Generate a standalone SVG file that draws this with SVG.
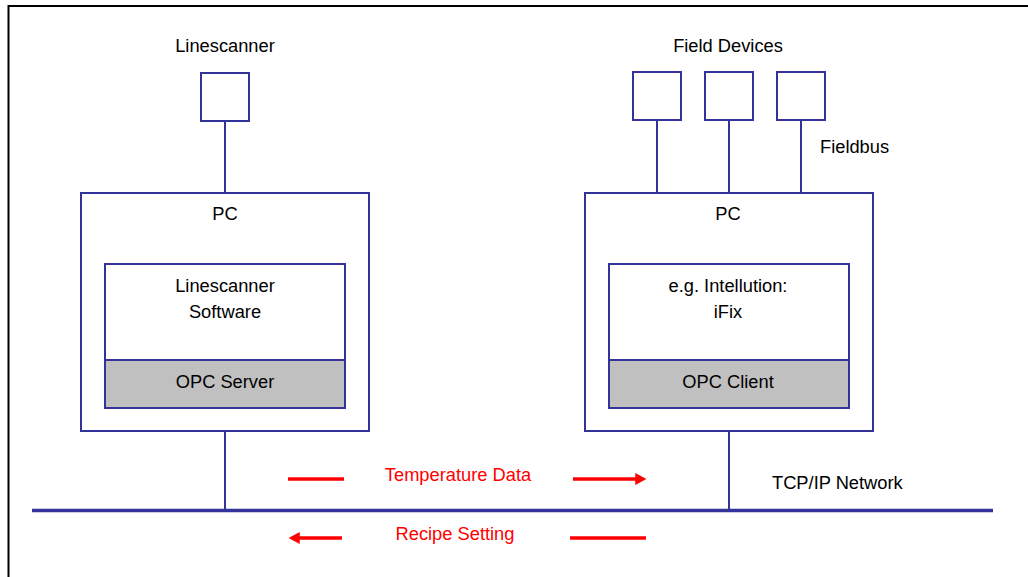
<svg xmlns="http://www.w3.org/2000/svg" width="1028" height="577" viewBox="0 0 1028 577">
<defs>
<style>
.box{fill:#fff;stroke:#333399;stroke-width:2}
.gray{fill:#c0c0c0;stroke:#333399;stroke-width:2}
.ln{stroke:#333399;stroke-width:2;fill:none}
.bus{stroke:#333399;stroke-width:3.5;fill:none}
.red{stroke:#ff0000;stroke-width:3.5;fill:none}
.t{font-family:"Liberation Sans",Arial,sans-serif;font-size:18.3px;fill:#000}
.c{text-anchor:middle}
.rt{font-family:"Liberation Sans",Arial,sans-serif;font-size:18.3px;fill:#ff0000;text-anchor:middle}
</style>
<marker id="ah" markerWidth="4" markerHeight="4" refX="0.5" refY="2" orient="auto" markerUnits="strokeWidth" viewBox="0 0 4 4">
<path d="M0,0.3 L3.2,2 L0,3.7 z" fill="#ff0000"/>
</marker>
</defs>
<rect width="1028" height="577" fill="#fff"/>
<path d="M8.5,600 V6 H1040" fill="none" stroke="#000" stroke-width="2"/>

<g id="linescanner">
<text class="t c" x="225" y="52">Linescanner</text>
<rect class="box" x="201" y="73" width="48" height="48"/>
</g>

<g id="field-devices">
<text class="t c" x="728" y="52">Field Devices</text>
<rect class="box" x="633" y="72" width="48" height="48"/>
<rect class="box" x="705" y="72" width="48" height="48"/>
<rect class="box" x="777" y="72" width="48" height="48"/>
<text class="t" x="820" y="153">Fieldbus</text>
</g>

<g id="pc-left">
<rect class="box" x="81" y="193" width="288" height="238"/>
<text class="t c" x="225" y="220">PC</text>
<rect class="box" x="105" y="264" width="240" height="96"/>
<text class="t c" x="225" y="292">Linescanner</text>
<text class="t c" x="225" y="318">Software</text>
<rect class="gray" x="105" y="360" width="240" height="48"/>
<text class="t c" x="225" y="388">OPC Server</text>
</g>

<g id="pc-right">
<rect class="box" x="585" y="193" width="288" height="238"/>
<text class="t c" x="728" y="220">PC</text>
<rect class="box" x="609" y="264" width="240" height="96"/>
<text class="t c" x="728" y="292">e.g. Intellution:</text>
<text class="t c" x="728" y="318">iFix</text>
<rect class="gray" x="609" y="360" width="240" height="48"/>
<text class="t c" x="728" y="388">OPC Client</text>
</g>

<g id="network">
<text class="t" x="772" y="489">TCP/IP Network</text>
</g>

<g id="connectors">
<line class="ln" x1="225" y1="121" x2="225" y2="193"/>
<line class="ln" x1="657" y1="120" x2="657" y2="193"/>
<line class="ln" x1="729" y1="120" x2="729" y2="193"/>
<line class="ln" x1="801" y1="120" x2="801" y2="193"/>
<line class="ln" x1="225" y1="431" x2="225" y2="510"/>
<line class="ln" x1="729" y1="431" x2="729" y2="510"/>
<line class="bus" x1="32" y1="510.5" x2="993" y2="510.5"/>
<line class="red" x1="288" y1="479" x2="344" y2="479"/>
<line class="red" x1="573" y1="479" x2="637" y2="479" marker-end="url(#ah)"/>
<line class="red" x1="342" y1="538" x2="298" y2="538" marker-end="url(#ah)"/>
<line class="red" x1="570" y1="538" x2="646" y2="538"/>
</g>

<g id="labels">
<text class="rt" x="458" y="481">Temperature Data</text>
<text class="rt" x="455" y="540">Recipe Setting</text>
</g>
</svg>
